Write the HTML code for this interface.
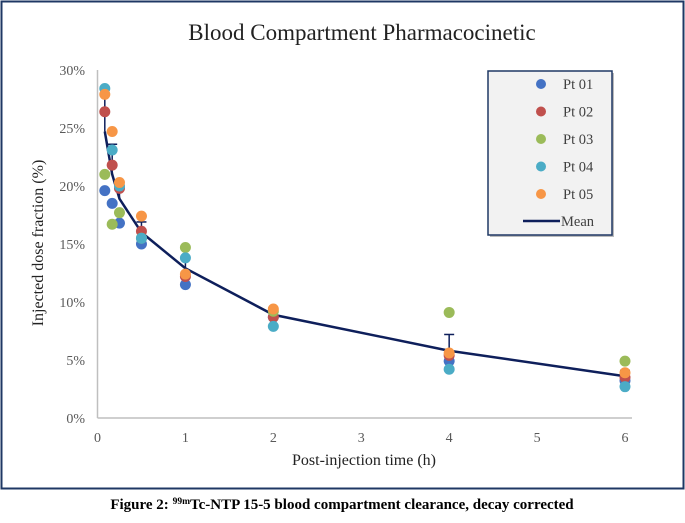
<!DOCTYPE html>
<html><head><meta charset="utf-8"><style>
body{margin:0;background:#fff;width:685px;height:518px;overflow:hidden;font-family:"Liberation Serif",serif}
</style></head><body>
<svg id="chart" width="685" height="518" xmlns="http://www.w3.org/2000/svg">
<rect x="1.5" y="1.5" width="682" height="487" fill="#fff" stroke="#1f3864" stroke-width="2"/>
<text x="362" y="40" text-anchor="middle" font-size="23" fill="#222" font-family="Liberation Serif,serif">Blood Compartment Pharmacocinetic</text>
<text transform="translate(43,243) rotate(-90)" text-anchor="middle" font-size="16" fill="#222">Injected dose fraction (%)</text>
<text x="364" y="465" text-anchor="middle" font-size="16" fill="#222">Post-injection time (h)</text>
<g id="axes"></g><g id="marks"></g>
<g>
<rect x="490" y="73" width="124" height="164" fill="#bbb"/>
<rect x="488" y="71" width="124" height="164" fill="#f2f2f2" stroke="#1f3864" stroke-width="1.5"/>
<g id="legend-items"></g>
</g>
<text x="342" y="509" text-anchor="middle" font-size="15" font-weight="bold" fill="#000">Figure 2: <tspan font-size="9.5" dy="-5">99m</tspan><tspan dy="5">Tc-NTP 15-5 blood compartment clearance, decay corrected</tspan></text>
</svg>
<script>
const times=[0.083,0.167,0.25,0.5,1,2,4,6];
const pt01=[19.6,18.5,16.8,15.0,11.5,8.7,4.9,3.2];
const pt02=[26.4,21.8,19.8,16.1,12.2,8.7,5.4,3.5];
const pt03=[21.0,16.7,17.7,15.5,14.7,9.2,9.1,4.9];
const pt04=[28.4,23.1,20.0,15.5,13.8,7.9,4.2,2.7];
const pt05=[27.9,24.7,20.3,17.4,12.4,9.4,5.6,3.9];
const meanV=[24.7,21.0,18.9,16.0,12.9,8.9,5.8,3.6];
const errV=[3.8,2.6,1.4,0.9,0.8,0.6,1.4,0.5];
const seriesNames=["Pt 01","Pt 02","Pt 03","Pt 04","Pt 05"];
const colors=["#4472c4","#c0504d","#9bbb59","#4bacc6","#f79646"];
const xTicks=[0,1,2,3,4,5,6];
const yTicks=[0,5,10,15,20,25,30];
const NS="http://www.w3.org/2000/svg";
const X=v=>97.5+v*(625-97.5)/6;
const Y=v=>418-v*(418-70)/30;
function mk(t,a,p){const e=document.createElementNS(NS,t);for(const k in a)e.setAttribute(k,a[k]);p.appendChild(e);return e;}
const axes=document.getElementById('axes'),marks=document.getElementById('marks');
let l=mk('line',{x1:97.5,y1:70,x2:97.5,y2:418,stroke:'#bfbfbf','stroke-width':1.5},axes);


l=mk('line',{x1:97.5,y1:418,x2:632,y2:418,stroke:'#bfbfbf','stroke-width':1.5},axes);


yTicks.forEach(v=>{const t=mk('text',{x:85,y:Y(v)+5,'text-anchor':'end','font-size':14,fill:'#595959'},axes);t.textContent=v+'%';

});
xTicks.forEach(v=>{const t=mk('text',{x:X(v),y:442,'text-anchor':'middle','font-size':14,fill:'#595959'},axes);t.textContent=v;

});
const pl=mk('polyline',{points:times.map((t,i)=>X(t)+','+Y(meanV[i])).join(' '),fill:'none',stroke:'#0e1f5b','stroke-width':2.5},marks);


times.forEach((t,i)=>{const g=mk('g',{stroke:'#0e1f5b','stroke-width':1.5},marks);


const x=X(t),y0=Y(meanV[i]),y1=Y(meanV[i]+errV[i]);
mk('line',{x1:x,y1:y0,x2:x,y2:y1},g);mk('line',{x1:x-5,y1:y1,x2:x+5,y2:y1},g);});
[pt01,pt02,pt03,pt04,pt05].forEach((s,k)=>{s.forEach((v,i)=>{const c=mk('circle',{cx:X(times[i]),cy:Y(v),r:5.5,fill:colors[k]},marks);

});});
const li=document.getElementById('legend-items');
seriesNames.forEach((n,k)=>{const y=84+k*27.5;
const c=mk('circle',{cx:541,cy:y,r:5,fill:colors[k]},li);


const t=mk('text',{x:563,y:y+5,'font-size':14.5,fill:'#404040'},li);t.textContent=n;

});
const ml=mk('line',{x1:523,y1:221,x2:560,y2:221,stroke:'#0e1f5b','stroke-width':2.5},li);


const mt=mk('text',{x:561,y:226,'font-size':14.5,fill:'#404040'},li);mt.textContent='Mean';


</script>
</body></html>
